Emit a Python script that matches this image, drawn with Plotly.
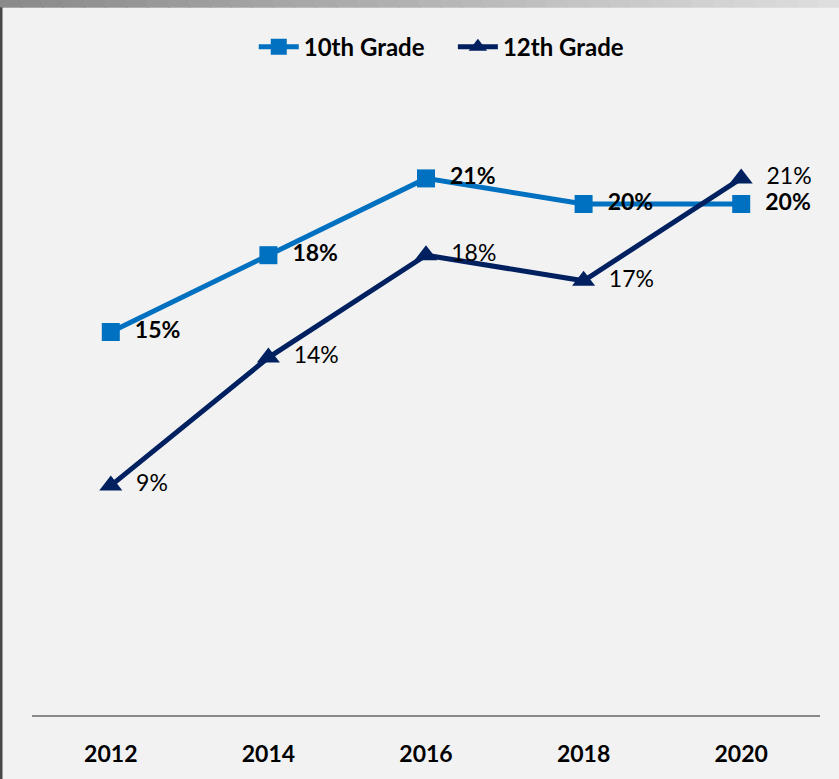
import plotly.graph_objects as go

years = ["2012", "2014", "2016", "2018", "2020"]
grade10 = [15, 18, 21, 20, 20]
grade12 = [9, 14, 18, 17, 21]
labels10 = ["<b>15%</b>", "<b>18%</b>", "<b>21%</b>", "<b>20%</b>", "<b>20%</b>"]
labels12 = ["9%", "14%", "18%", "17%", "21%"]

W, H = 839, 779
ML, MR, MT, MB = 32, 19, 76, 61
ph = H - MT - MB
pw = W - ML - MR
PAD = "\u00a0\u00a0"

fig = go.Figure()
fig.add_trace(go.Scatter(
    x=years, y=grade10, name="10th Grade\u00a0\u00a0\u00a0\u00a0", mode="lines+markers+text",
    line=dict(color="#0070C0", width=5),
    marker=dict(symbol="square", size=18, color="#0070C0"),
    text=[PAD + t for t in labels10], textposition="middle right",
    textfont=dict(family="Lato", size=23, color="#000000"),
    cliponaxis=False,
))
fig.add_trace(go.Scatter(
    x=years, y=grade12, name="12th Grade", mode="lines+markers+text",
    line=dict(color="#002060", width=5),
    marker=dict(symbol="triangle-up", size=20, color="#002060"),
    text=[PAD + t for t in labels12], textposition="middle right",
    textfont=dict(family="Lato", size=23, color="#000000"),
    cliponaxis=False,
))

shapes = []
# top gradient bar
n = 40
for i in range(n):
    t = i / (n - 1)
    c = int(0x8a + (0xde - 0x8a) * t)
    x0 = -ML / pw + i * (W / n) / pw
    x1 = x0 + (W / n) / pw + 0.002
    shapes.append(dict(type="rect", xref="paper", yref="paper",
                       x0=x0, x1=x1, y0=(H - MB - 7.5) / ph, y1=(H - MB + 2) / ph,
                       fillcolor=f"rgb({c},{c},{c})", line=dict(width=0), layer="above"))
# left border
shapes.append(dict(type="rect", xref="paper", yref="paper",
                   x0=-ML / pw - 0.01, x1=(-ML + 2.5) / pw, y0=-MB / ph - 0.01, y1=(H - MB - 7) / ph,
                   fillcolor="#474747", line=dict(width=0), layer="above"))

fig.update_layout(
    width=W, height=H,
    margin=dict(l=ML, r=MR, t=MT, b=MB),
    paper_bgcolor="#f2f2f2", plot_bgcolor="#f2f2f2",
    font=dict(family="Lato", color="#000000"),
    showlegend=True,
    legend=dict(orientation="h", x=0.52, xanchor="center", y=1 + 29 / ph, yanchor="middle",
                font=dict(family="Lato", size=24, color="#000000", weight="bold"),
                bgcolor="rgba(0,0,0,0)", itemwidth=40, traceorder="normal"),
    xaxis=dict(type="category", range=[-0.5, 4.5], showgrid=False, zeroline=False,
               showline=False, ticks="",
               tickfont=dict(family="Lato", size=23, color="#000000", weight="bold"),
               ticklabelstandoff=22, fixedrange=True),
    yaxis=dict(range=[0, 25], showgrid=False, zeroline=True, zerolinecolor="#898989",
               zerolinewidth=2, showticklabels=False, ticks="", showline=False, fixedrange=True),
    shapes=shapes,
)

fig.write_html("out.html", config={"displayModeBar": False},
               post_script="document.body.style.margin='0';document.body.style.padding='0';")
